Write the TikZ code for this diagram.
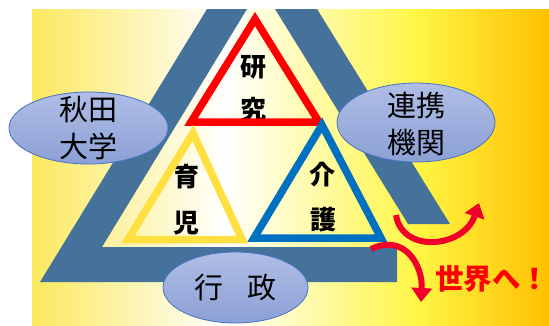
\documentclass[tikz,border=0pt]{standalone}
\usepackage{fontspec}
\setmainfont{Noto Sans CJK JP}
\usepackage{tikz}
\usetikzlibrary{arrows.meta,shapes.geometric}
\definecolor{frameblue}{RGB}{68,114,155}
\definecolor{ovaltop}{RGB}{176,190,230}
\definecolor{ovalbottom}{RGB}{140,160,213}
\definecolor{ovalline}{RGB}{68,114,196}
\definecolor{bgyellow}{RGB}{251,233,95}
\definecolor{bgbright}{RGB}{255,246,70}
\definecolor{bgorange}{RGB}{255,192,0}
\definecolor{triyellow}{RGB}{255,224,64}
\definecolor{triblue}{RGB}{0,112,192}
\definecolor{wavered}{RGB}{240,0,40}
\tikzset{
	oval/.style={ellipse, draw=ovalline, line width=0.8pt, top color=ovaltop, bottom color=ovalbottom, inner sep=0pt},
	ovaltext/.style={align=center, font=\fontsize{29}{37}\selectfont},
	field/.style={font=\fontsize{26}{26}\selectfont\bfseries},
	fieldtri/.style={line width=7.5pt, line join=miter},
	wave/.style={wavered, line width=6pt, -{Triangle[length=14pt,width=20pt]}}
}
\begin{document}
\begin{tikzpicture}[x=1pt, y=-1pt]
		\useasboundingbox (0,0) rectangle (549,325);
		\shade[left color=bgyellow, right color=white] (32,9) rectangle (225,325);
		\shade[left color=white, right color=bgbright] (224.5,9) rectangle (415,325);
		\shade[left color=bgbright, right color=bgorange] (414.5,9) rectangle (549,325);
		\fill[frameblue] (207,9) -- (40,282) -- (397,282) -- (397,247) -- (102,247) -- (247,9) -- cycle;
		\fill[frameblue] (275,9) -- (317,9) -- (450,224) -- (408,224) -- cycle;
		\node(ken)[field] at (253,67){研};
		\node(kyu)[field] at (253,110){究};
		\node(iku)[field] at (186,177){育};
		\node(ji)[field] at (186,223){児};
		\node(kai)[field] at (322,175){介};
		\node(go)[field] at (323,220){護};
		\draw[fieldtri, red] (255,19) -- (191,122) -- (319,122) -- cycle;
		\draw[fieldtri, triyellow] (193,133) -- (128,239.5) -- (242,239.5) -- cycle;
		\draw[fieldtri, triblue] (322,125) -- (254,238) -- (381,238) -- cycle;
		\node(akita)[oval, minimum width=159pt, minimum height=72pt] at (88.5,128){};
		\node(renkei)[oval, minimum width=158pt, minimum height=79pt] at (416,122.5){};
		\node(gyosei)[oval, minimum width=145pt, minimum height=71pt] at (235.5,287.5){};
		\node(akitatext)[ovaltext] at (akita.center){秋田\\大学};
		\node(renkeitext)[ovaltext] at ([yshift=-1.5pt]renkei.center){連携\\機関};
		\node(gyoseitext)[ovaltext] at (gyosei.center){行\hspace{0.8em}政};
		\coordinate(up start) at (396,215);
		\coordinate(up end) at (479,203);
		\coordinate(down start) at (371,249);
		\coordinate(down end) at (421,302);
		\draw[wave] (up start) .. controls (402,254) and (464,248) .. (up end);
		\draw[wave] (down start) .. controls (405,233) and (423,266) .. (down end);
		\node(world)[anchor=west, text=red, font=\fontsize{28.5}{28.5}\selectfont\bfseries, inner sep=0pt] at (435,279){世界へ！};
	\end{tikzpicture}
\end{document}
